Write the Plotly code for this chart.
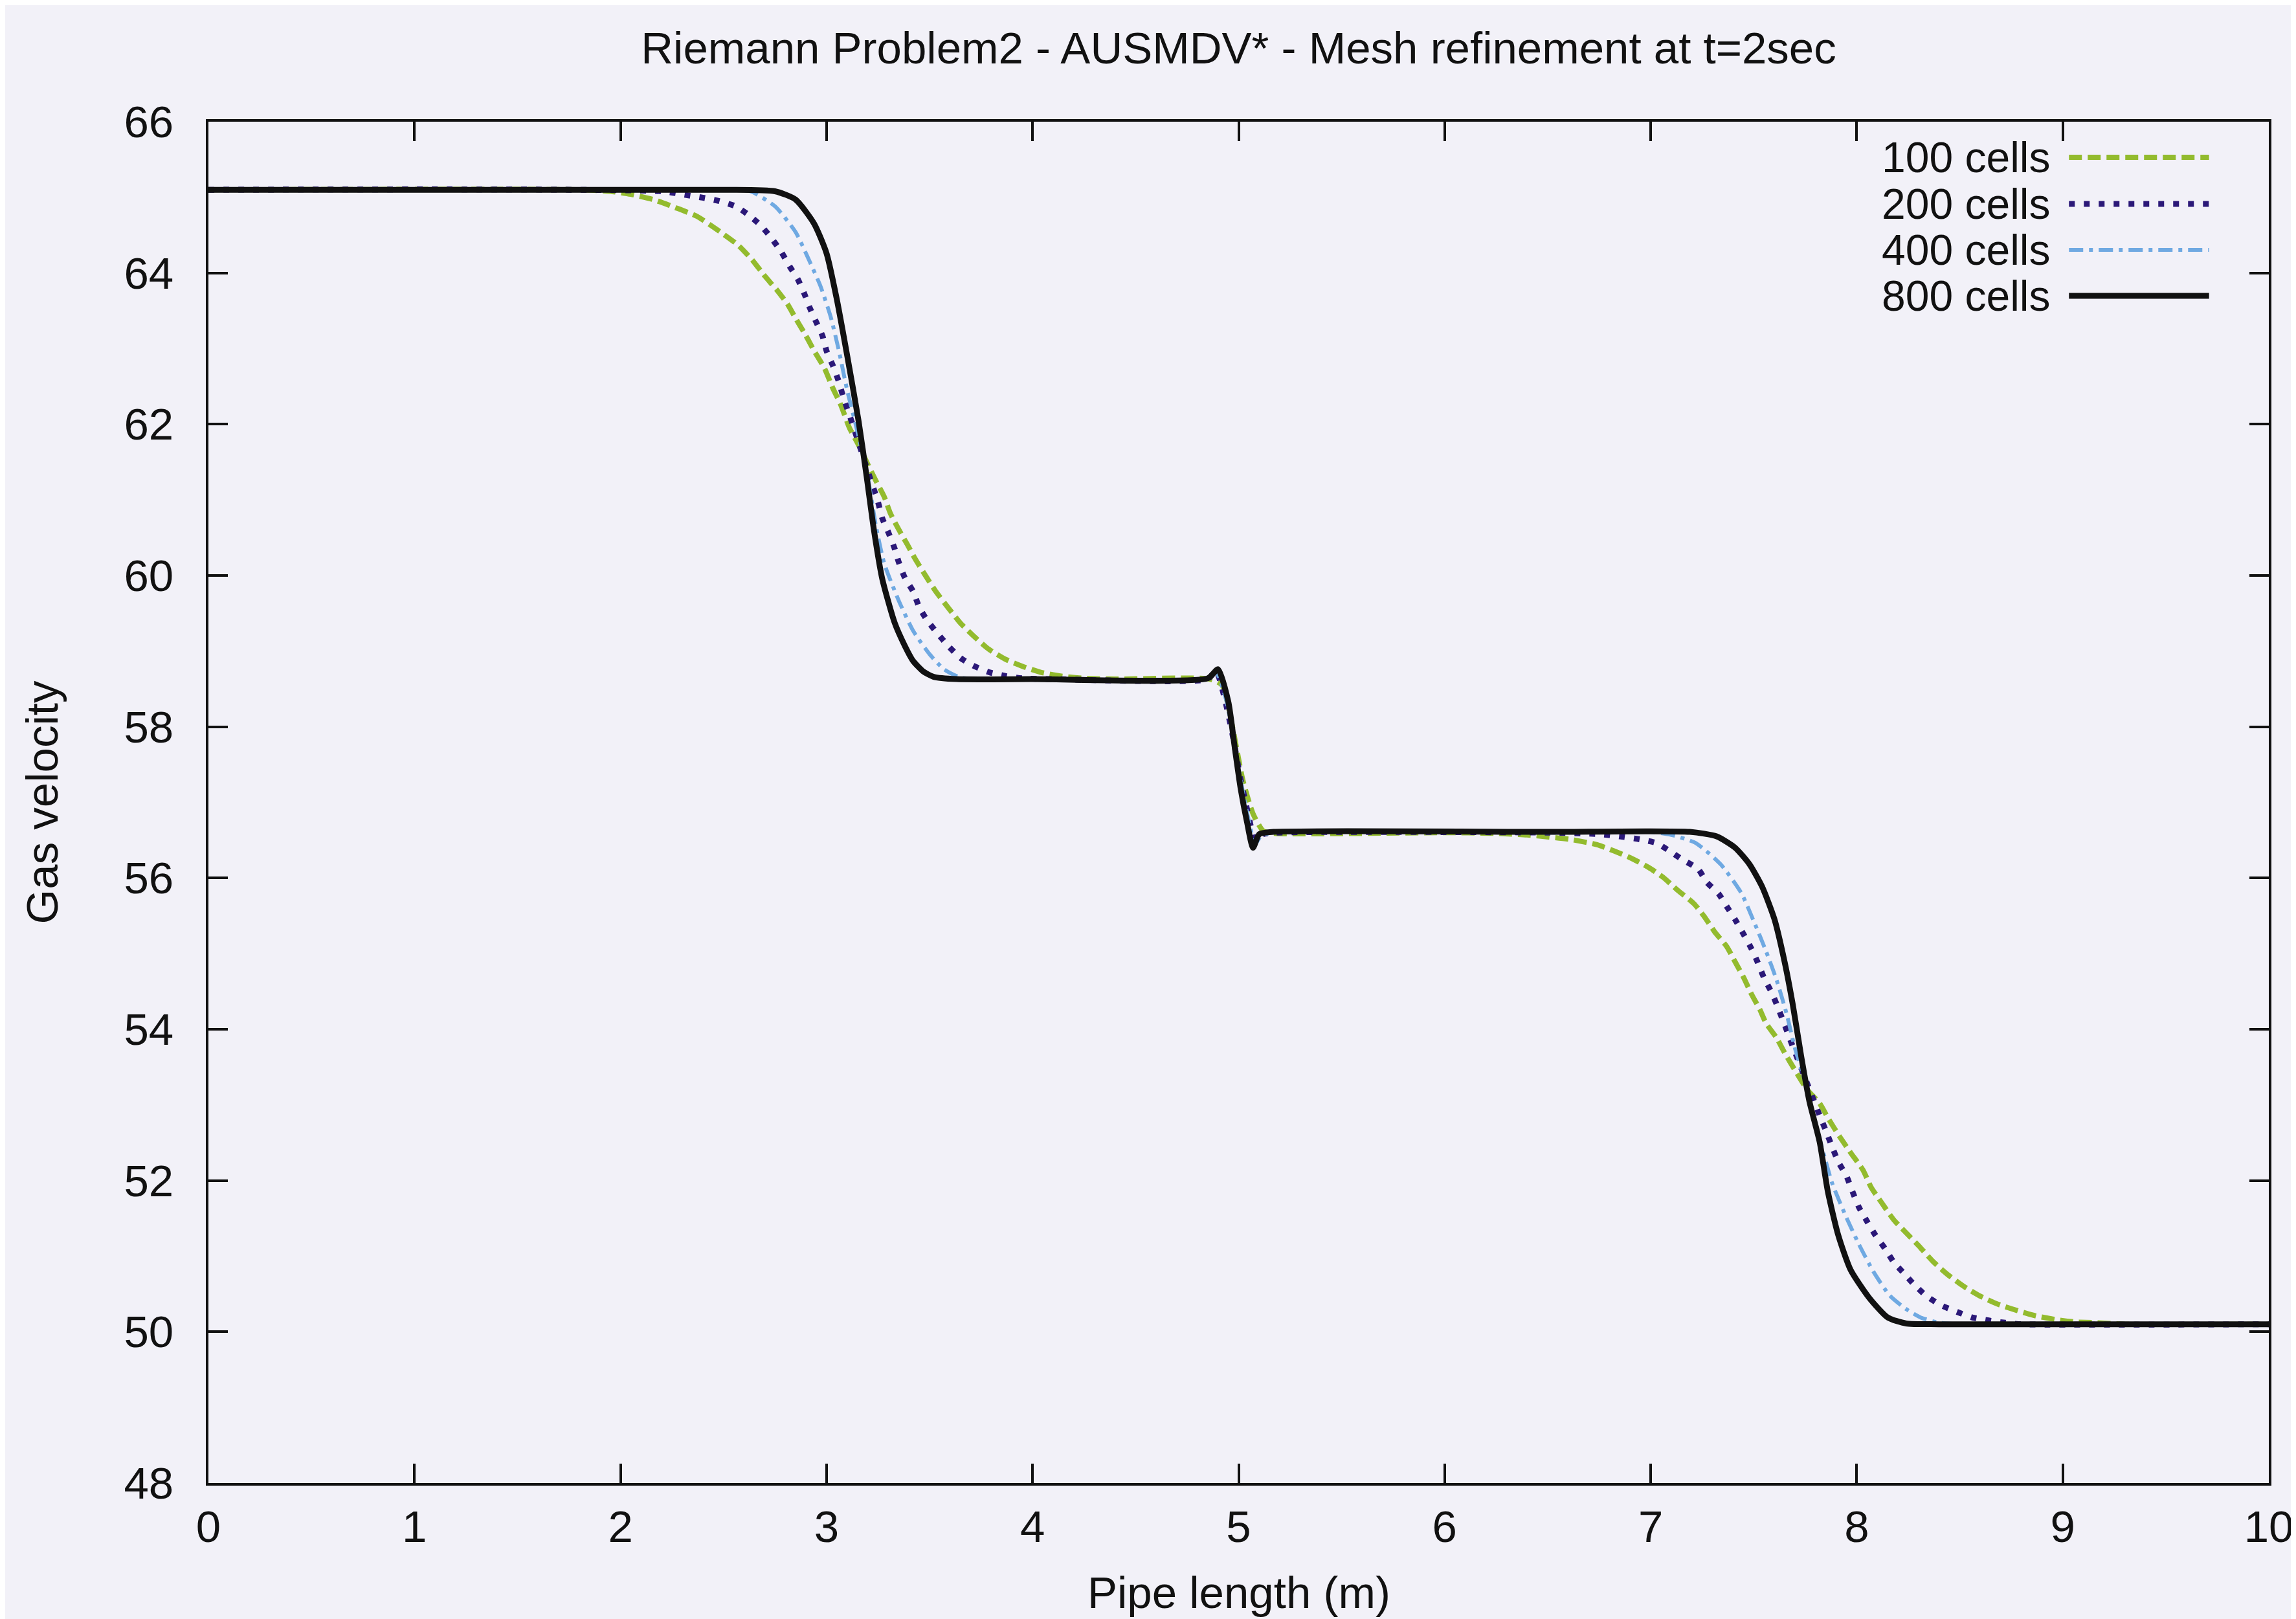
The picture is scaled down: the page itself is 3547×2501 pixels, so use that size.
import plotly.graph_objects as go

# ---- data ----
x_800 = [0, 2.5, 2.75, 2.85, 2.94, 3.00, 3.05, 3.10, 3.155, 3.195, 3.23, 3.27, 3.33, 3.38, 3.42, 3.47, 3.52, 3.63, 4.0,
         4.85, 4.90, 4.95, 4.98, 5.01, 5.04, 5.07, 5.10, 5.17, 6.5,
         7.19, 7.32, 7.41, 7.48, 7.54, 7.60, 7.65, 7.69, 7.73, 7.77, 7.82, 7.86, 7.91, 7.97, 8.06, 8.15, 8.24, 8.4, 10]
y_800 = [65.10, 65.10, 65.08, 64.97, 64.65, 64.26, 63.65, 62.91, 62.05, 61.30, 60.60, 59.96, 59.38, 59.07, 58.87, 58.73, 58.66, 58.63, 58.63,
         58.64, 58.76, 58.33, 57.75, 57.18, 56.75, 56.40, 56.58, 56.61, 56.61,
         56.61, 56.55, 56.40, 56.18, 55.89, 55.46, 54.89, 54.32, 53.65, 53.05, 52.51, 51.85, 51.28, 50.82, 50.45, 50.19, 50.11, 50.10, 50.10]

x_400 = [0, 2.5, 2.63, 2.75, 2.85, 2.91, 2.97, 3.02, 3.06, 3.10, 3.15, 3.20, 3.24, 3.28, 3.35, 3.42, 3.50, 3.57, 3.65, 3.75, 4.0,
         4.85, 4.89, 4.94, 4.98, 5.02, 5.05, 5.08, 5.11, 5.17, 6.5,
         7.0, 7.10, 7.22, 7.34, 7.44, 7.50, 7.56, 7.61, 7.66, 7.70, 7.75, 7.80, 7.84, 7.88, 7.95, 8.01, 8.08, 8.16, 8.24, 8.31, 8.40, 8.5, 10]
y_400 = [65.10, 65.10, 65.08, 64.88, 64.54, 64.20, 63.83, 63.42, 62.97, 62.45, 61.90, 61.30, 60.65, 60.16, 59.67, 59.27, 58.96, 58.76, 58.65, 58.63, 58.63,
         58.63, 58.72, 58.35, 57.75, 57.15, 56.75, 56.45, 56.56, 56.60, 56.60,
         56.61, 56.57, 56.46, 56.18, 55.80, 55.43, 55.03, 54.66, 54.20, 53.75, 53.30, 52.75, 52.35, 51.97, 51.51, 51.16, 50.80, 50.48, 50.30, 50.19, 50.12, 50.10, 50.10]

x_200 = [0, 2.2, 2.32, 2.41, 2.48, 2.56, 2.62, 2.68, 2.73, 2.78, 2.82, 2.86, 2.89, 2.92, 2.95, 2.98, 3.00, 3.03, 3.06, 3.08,
         3.12, 3.16, 3.20, 3.25, 3.27, 3.30, 3.33, 3.35, 3.38, 3.42, 3.45, 3.49, 3.54, 3.59, 3.65, 3.71, 3.79, 3.87, 3.95, 4.1,
         4.85, 4.89, 4.93, 4.97, 5.01, 5.05, 5.08, 5.12, 5.18, 6.5,
         6.75, 6.85, 6.95, 7.03, 7.09, 7.15, 7.23, 7.27, 7.33, 7.37, 7.41, 7.45, 7.49, 7.52, 7.55, 7.59, 7.62, 7.65, 7.68, 7.72,
         7.76, 7.79, 7.82, 7.85, 7.88, 7.91, 7.95, 7.98, 8.01, 8.05, 8.09, 8.14, 8.18, 8.23, 8.28, 8.34, 8.41, 8.49, 8.56, 8.64,
         8.72, 8.80, 10]
y_200 = [65.10, 65.08, 65.03, 64.99, 64.95, 64.88, 64.77, 64.63, 64.47, 64.28, 64.09, 63.92, 63.74, 63.53, 63.35, 63.17, 62.97, 62.78, 62.56, 62.37,
         62.05, 61.72, 61.38, 60.97, 60.76, 60.57, 60.36, 60.18, 59.97, 59.79, 59.58, 59.40, 59.23, 59.07, 58.91, 58.81, 58.72, 58.67, 58.64, 58.63,
         58.63, 58.74, 58.40, 57.90, 57.30, 56.80, 56.50, 56.58, 56.60, 56.60,
         56.58, 56.55, 56.51, 56.46, 56.36, 56.25, 56.12, 55.95, 55.79, 55.62, 55.45, 55.26, 55.06, 54.88, 54.68, 54.47, 54.27, 54.06, 53.84, 53.56,
         53.28, 53.07, 52.86, 52.66, 52.45, 52.25, 52.06, 51.85, 51.65, 51.46, 51.28, 51.09, 50.92, 50.77, 50.62, 50.47, 50.35, 50.26, 50.19, 50.15,
         50.12, 50.10, 50.10]

x_100 = [0, 1.8, 1.95, 2.05, 2.16, 2.26, 2.37, 2.47, 2.57, 2.64, 2.70, 2.76, 2.81, 2.85, 2.90, 2.94, 2.99, 3.03, 3.07, 3.11,
         3.16, 3.20, 3.24, 3.28, 3.31, 3.35, 3.39, 3.43, 3.48, 3.53, 3.60, 3.65, 3.71, 3.78, 3.87, 3.95, 4.04, 4.14, 4.25, 4.4,
         4.86, 4.92, 4.97, 5.02, 5.07, 5.12, 5.18, 6.0,
         6.25, 6.40, 6.61, 6.74, 6.82, 6.90, 6.99, 7.06, 7.13, 7.21, 7.26, 7.31, 7.37, 7.41, 7.45, 7.49, 7.53, 7.56, 7.61, 7.65,
         7.70, 7.76, 7.82, 7.86, 7.91, 7.97, 8.03, 8.07, 8.12, 8.18, 8.25, 8.31, 8.37, 8.44, 8.52, 8.60, 8.69, 8.78, 8.87, 8.97,
         9.06, 9.16, 9.3, 10]
y_100 = [65.10, 65.10, 65.08, 65.04, 64.97, 64.87, 64.75, 64.57, 64.37, 64.17, 63.96, 63.77, 63.59, 63.40, 63.17, 62.97, 62.74, 62.48, 62.25, 61.96,
         61.70, 61.47, 61.25, 61.04, 60.82, 60.61, 60.42, 60.22, 60.00, 59.79, 59.54, 59.37, 59.21, 59.04, 58.89, 58.80, 58.72, 58.67, 58.64, 58.63,
         58.63, 58.55, 58.00, 57.30, 56.85, 56.62, 56.59, 56.60,
         56.59, 56.57, 56.51, 56.44, 56.36, 56.27, 56.14, 56.01, 55.84, 55.66, 55.49, 55.29, 55.09, 54.89, 54.69, 54.46, 54.26, 54.08, 53.89, 53.69,
         53.46, 53.20, 53.02, 52.83, 52.61, 52.37, 52.14, 51.91, 51.71, 51.48, 51.28, 51.11, 50.93, 50.76, 50.60, 50.47, 50.36, 50.28, 50.21, 50.16,
         50.13, 50.12, 50.10, 50.10]

series_names = ["100 cells", "200 cells", "400 cells", "800 cells"]
x_ticks = list(range(0, 11))
y_ticks = list(range(48, 67, 2))

# ---- styles ----
FONT = "Liberation Sans, Arial, sans-serif"
BG = "#f2f1f8"
W, H = 3547, 2501
M_L, M_R, M_T, M_B = 314, 50, 180, 218
styles = [
    dict(color="#93bb2e", width=8, dash="20px,9px"),
    dict(color="#2b1878", width=9, dash="9px,14px"),
    dict(color="#6fa9e2", width=6, dash="22px,9px,6px,9px"),
    dict(color="#111111", width=9, dash="solid"),
]
xs = [x_100, x_200, x_400, x_800]
ys = [y_100, y_200, y_400, y_800]

fig = go.Figure()
for name, x, y, st in zip(series_names, xs, ys, styles):
    fig.add_trace(go.Scatter(x=x, y=y, mode="lines", name=name, showlegend=False,
                             line=dict(color=st["color"], width=st["width"], dash=st["dash"],
                                       shape="spline", smoothing=0.6)))

plot_h = H - M_T - M_B


def paper_y(py):
    """pixel row (from top of page) -> paper y"""
    return (H - M_B - py) / plot_h


# gnuplot-style legend (text right-aligned, sample on the right)
leg_rows_px = [235, 307, 378, 449]
for name, st, row in zip(series_names, styles, leg_rows_px):
    ly = paper_y(row)
    fig.add_annotation(x=0.8946, y=ly, xref="paper", yref="paper", text=name, showarrow=False,
                       xanchor="right", yanchor="middle", font=dict(family=FONT, size=66, color="#111111"))
    fig.add_shape(type="line", xref="paper", yref="paper", x0=0.903, x1=0.971, y0=ly, y1=ly,
                  line=dict(color=st["color"], width=st["width"], dash=st["dash"]))

# x-axis title
fig.add_annotation(x=0.5, y=paper_y(2452), xref="paper", yref="paper", text="Pipe length (m)",
                   showarrow=False, xanchor="center", yanchor="middle",
                   font=dict(family=FONT, size=69, color="#111111"))

axis_common = dict(showgrid=False, zeroline=False, showline=True, linecolor="#111111", linewidth=4,
                   mirror="ticks", ticks="inside", ticklen=30, tickwidth=4, tickcolor="#111111",
                   tickfont=dict(family=FONT, size=69, color="#111111"))

fig.update_layout(
    width=W, height=H,
    paper_bgcolor=BG, plot_bgcolor=BG,
    margin=dict(l=M_L, r=M_R, t=M_T, b=M_B),
    title=dict(text="Riemann Problem2 - AUSMDV* - Mesh refinement at t=2sec",
               x=0.5, xref="paper", y=1 - 66 / H, yanchor="middle",
               font=dict(family=FONT, size=69, color="#111111")),
    xaxis=dict(range=[0, 10], tickvals=x_ticks, ticktext=[str(v) for v in x_ticks],
               ticklabelstandoff=4, **axis_common),
    yaxis=dict(range=[48, 66], tickvals=y_ticks, ticktext=[str(v) for v in y_ticks],
               ticklabelstandoff=36,
               title=dict(text="Gas velocity", standoff=80,
                          font=dict(family=FONT, size=69, color="#111111")),
               **axis_common),
)

fig.write_html("out.html")
